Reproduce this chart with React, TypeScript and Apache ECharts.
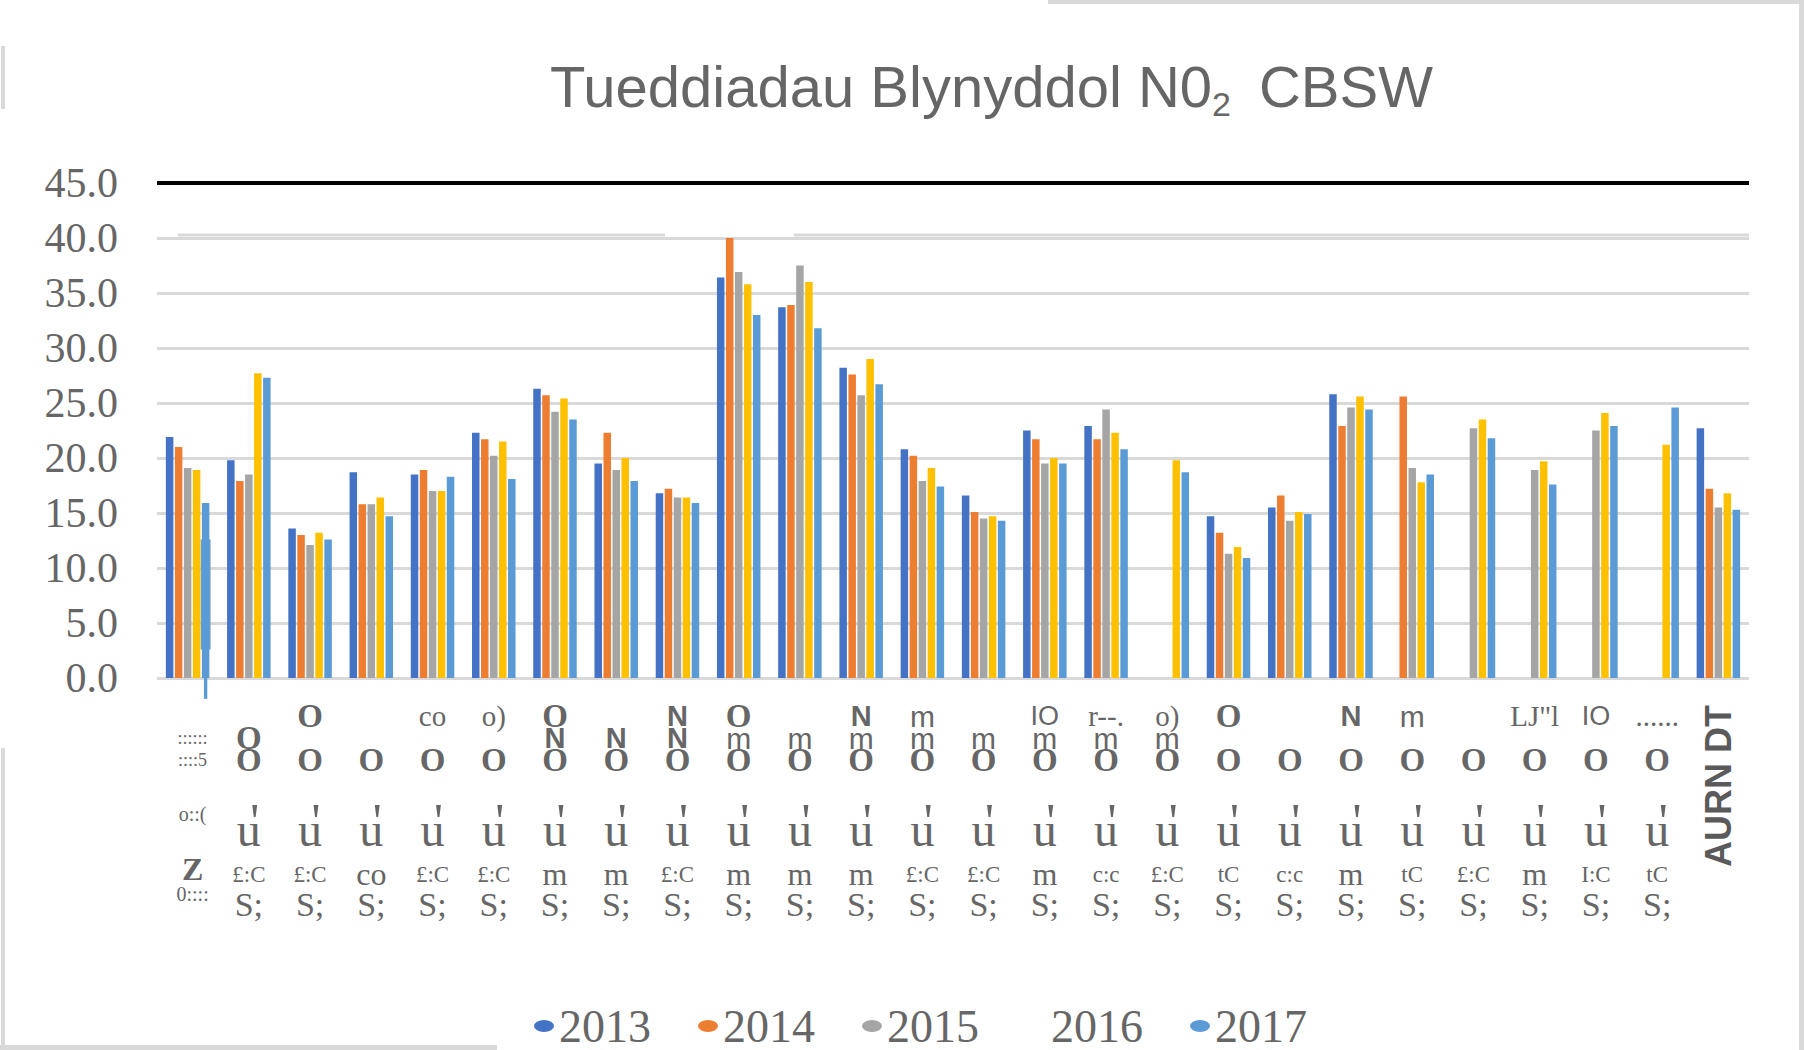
import React, { useEffect, useRef } from 'react';
import * as echarts from 'echarts';

// ---------- data ----------
const years = ['2013', '2014', '2015', '2016', '2017'];

const values2013 = [21.9, 19.8, 13.6, 18.7, 18.5, 22.3, 26.3, 19.5, 16.8, 36.4, 33.7, 28.2, 20.8, 16.6, 22.5, 22.9, null, 14.7, 15.5, 25.8, null, null, null, null, null, 22.7];
const values2014 = [21.0, 17.9, 13.0, 15.8, 18.9, 21.7, 25.7, 22.3, 17.2, 40.0, 33.9, 27.6, 20.2, 15.1, 21.7, 21.7, null, 13.2, 16.6, 22.9, 25.6, null, null, null, null, 17.2];
const values2015 = [19.1, 18.5, 12.1, 15.8, 17.0, 20.2, 24.2, 18.9, 16.4, 36.9, 37.5, 25.7, 17.9, 14.5, 19.5, 24.4, null, 11.3, 14.3, 24.6, 19.1, 22.7, 18.9, 22.5, null, 15.5];
const values2016 = [18.9, 27.7, 13.2, 16.4, 17.0, 21.5, 25.4, 20.0, 16.4, 35.8, 36.0, 29.0, 19.1, 14.7, 20.0, 22.3, 19.8, 11.9, 15.1, 25.6, 17.8, 23.5, 19.7, 24.1, 21.2, 16.8];
const values2017 = [15.9, 27.3, 12.6, 14.7, 18.3, 18.1, 23.5, 17.9, 15.9, 33.0, 31.8, 26.7, 17.4, 14.3, 19.5, 20.8, 18.7, 10.9, 14.9, 24.4, 18.5, 21.8, 17.6, 22.9, 24.6, 15.3];
const seriesValues = [values2013, values2014, values2015, values2016, values2017];

// overlay on the first site's 2017 bar: [category index, low, high, tail below zero]
const overlayCat1 = [0, 2.6, 12.6, -1.9];

// axis
const yMin = 0;
const yMax = 45;
const yStep = 5;

// x-axis label rows (as printed)
const rowA = ['', '', 'O', '', 'co', 'o)', 'O', '', 'N', 'O', '', 'N', 'm', '', 'IO', 'r--.', 'o)', 'O', '', 'N', 'm', '', 'LJ"l', 'IO', '......', ''];
const rowB = ['::::::', 'O', '', '', '', '', 'N', 'N', 'N', 'm', 'm', 'm', 'm', 'm', 'm', 'm', 'm', '', '', '', '', '', '', '', '', ''];
const rowC = ['::::5', 'O', 'O', 'O', 'O', 'O', 'O', 'O', 'O', 'O', 'O', 'O', 'O', 'O', 'O', 'O', 'O', 'O', 'O', 'O', 'O', 'O', 'O', 'O', 'O', ''];
const rowTick = ['o::(', "'", "'", "'", "'", "'", "'", "'", "'", "'", "'", "'", "'", "'", "'", "'", "'", "'", "'", "'", "'", "'", "'", "'", "'", ''];
const rowU = ['', 'u', 'u', 'u', 'u', 'u', 'u', 'u', 'u', 'u', 'u', 'u', 'u', 'u', 'u', 'u', 'u', 'u', 'u', 'u', 'u', 'u', 'u', 'u', 'u', ''];
const rowE = ['Z', '£:C', '£:C', 'co', '£:C', '£:C', 'm', 'm', '£:C', 'm', 'm', 'm', '£:C', '£:C', 'm', 'c:c', '£:C', 'tC', 'c:c', 'm', 'tC', '£:C', 'm', 'I:C', 'tC', ''];
const rowF = ['0::::', 'S;', 'S;', 'S;', 'S;', 'S;', 'S;', 'S;', 'S;', 'S;', 'S;', 'S;', 'S;', 'S;', 'S;', 'S;', 'S;', 'S;', 'S;', 'S;', 'S;', 'S;', 'S;', 'S;', 'S;', ''];
const rowRotated = ['', '', '', '', '', '', '', '', '', '', '', '', '', '', '', '', '', '', '', '', '', '', '', '', '', 'AURN DT'];

const categories = rowF.map((_, i) =>
  rowRotated[i] || [rowA[i], rowB[i], rowC[i], rowU[i], rowE[i], rowF[i]].filter(Boolean).join(' ')
);

const titleMain = 'Tueddiadau Blynyddol N0';
const titleSub = '2';
const titleTail = 'CBSW';

// ---------- styles ----------
const colors = ['#4472C4', '#ED7D31', '#A5A5A5', '#FFC000', '#5B9BD5'];
const SERIF = 'Liberation Serif';
const SANS = 'Liberation Sans';
const TXT = '#666666';
const GRIDLINE = '#d9d9d9';
const gridBox = { left: 157, right: 55, top: 183, bottom: 372 };

function tokL1(t: string, first: boolean) {
  if (!t) return '{e| }';
  if (first) return `{d|${t}}`;
  if (t === 'O') return '{o|O}';
  if (t === 'N') return '{n|N}';
  if (t === 'm') return '{m|m}';
  if (t === 'IO') return '{io|IO}';
  return `{s|${t}}`;
}

function tokE(t: string, first: boolean) {
  if (!t) return '{e| }';
  if (first) return `{z|${t}}`;
  if (t === 'm' || t === 'co') return `{e2|${t}}`;
  return `{e1|${t}}`;
}

function tokF(t: string, first: boolean) {
  if (!t) return '{e| }';
  if (first) return `{d2|${t}}`;
  return `{f|${t}}`;
}

function labelAxis(gridIndex: number, axisLabel: any) {
  return {
    type: 'category',
    gridIndex,
    data: categories,
    boundaryGap: true,
    axisLine: { show: false, onZero: false },
    axisTick: { show: false },
    splitLine: { show: false },
    axisLabel: { interval: 0, color: TXT, ...axisLabel },
  };
}

function buildOption() {
  const nGridLines = (yMax - yMin) / yStep + 1;
  const splitColors = Array.from({ length: nGridLines }, (_, i) => (i === nGridLines - 1 ? '#000000' : GRIDLINE));

  const grids = [0, 1, 2, 3, 4, 5].map(() => ({ ...gridBox }));

  const l1 = { lineHeight: 22, color: TXT };
  const l4 = { lineHeight: 30, color: TXT };

  const xAxes: any[] = [
    {
      type: 'category',
      gridIndex: 0,
      data: categories,
      boundaryGap: true,
      axisLine: { show: false },
      axisTick: { show: false },
      axisLabel: { show: false },
    },
    labelAxis(1, {
      margin: 27,
      verticalAlign: 'top',
      formatter: (_v: string, i: number) =>
        i === 25 ? '' : [tokL1(rowA[i], i === 0), tokL1(rowB[i], i === 0), tokL1(rowC[i], i === 0)].join('\n'),
      rich: {
        e: { ...l1, fontSize: 10, fontFamily: SERIF },
        o: { ...l1, fontFamily: SERIF, fontWeight: 'bold', fontSize: 33 },
        n: { ...l1, fontFamily: SANS, fontWeight: 'bold', fontSize: 29 },
        m: { ...l1, fontFamily: SANS, fontSize: 30 },
        io: { ...l1, fontFamily: SANS, fontSize: 27 },
        s: { ...l1, fontFamily: SERIF, fontSize: 29 },
        d: { ...l1, fontFamily: SERIF, fontSize: 18, padding: [0, 0, 0, 10] },
      },
    }),
    labelAxis(2, {
      margin: 143,
      verticalAlign: 'middle',
      formatter: (_v: string, i: number) => (i === 0 ? `{d|${rowTick[i]}}` : rowTick[i] ? `{t|${rowTick[i]}}` : ''),
      rich: {
        t: { fontFamily: SERIF, fontSize: 50, lineHeight: 50, color: TXT, padding: [0, 0, 0, 12] },
        d: { fontFamily: SERIF, fontSize: 20, lineHeight: 50, color: TXT, padding: [0, 0, 14, 10] },
      },
    }),
    labelAxis(3, {
      margin: 151,
      verticalAlign: 'middle',
      formatter: (_v: string, i: number) => (rowU[i] ? `{u|${rowU[i]}}` : ''),
      rich: {
        u: { fontFamily: SERIF, fontSize: 48, lineHeight: 48, color: TXT },
      },
    }),
    labelAxis(4, {
      margin: 181,
      verticalAlign: 'top',
      formatter: (_v: string, i: number) =>
        i === 25 ? '' : [tokE(rowE[i], i === 0), tokF(rowF[i], i === 0)].join('\n'),
      rich: {
        e: { ...l4, fontSize: 10, fontFamily: SERIF },
        e1: { ...l4, fontFamily: SERIF, fontSize: 23 },
        e2: { ...l4, fontFamily: SERIF, fontSize: 32 },
        f: { ...l4, fontFamily: SERIF, fontSize: 34 },
        z: { color: TXT, lineHeight: 19, fontFamily: SERIF, fontWeight: 'bold', fontSize: 32, padding: [0, 0, 0, 10] },
        d2: { color: TXT, lineHeight: 32, fontFamily: SERIF, fontSize: 20, padding: [0, 0, 0, 10] },
      },
    }),
    labelAxis(5, {
      margin: 27,
      rotate: 90,
      fontFamily: SANS,
      fontWeight: 'bold',
      fontSize: 36,
      color: '#5a5a5a',
      formatter: (_v: string, i: number) => rowRotated[i],
    }),
  ];

  const yAxes: any[] = [
    {
      type: 'value',
      gridIndex: 0,
      min: yMin,
      max: yMax,
      interval: yStep,
      axisLine: { show: false },
      axisTick: { show: false },
      axisLabel: {
        margin: 39,
        fontFamily: SERIF,
        fontSize: 42,
        color: TXT,
        formatter: (v: number) => v.toFixed(1),
      },
      splitLine: { show: true, lineStyle: { color: splitColors, width: 3 } },
    },
    ...[1, 2, 3, 4, 5].map((g) => ({ type: 'value', gridIndex: g, show: false, min: 0, max: 1 })),
  ];

  const barSeries = years.map((y, k) => ({
    type: 'bar',
    name: y,
    xAxisIndex: 0,
    yAxisIndex: 0,
    data: seriesValues[k],
    barWidth: 7.5,
    barGap: '20%',
    itemStyle: { color: colors[k] },
    ...(k === 0
      ? {
          markLine: {
            silent: true,
            symbol: 'none',
            label: { show: false },
            lineStyle: { color: '#000000', width: 4, type: 'solid' },
            data: [{ yAxis: yMax }],
          },
        }
      : {}),
  }));

  const overlaySeries = {
    type: 'custom',
    xAxisIndex: 0,
    yAxisIndex: 0,
    silent: true,
    data: [overlayCat1],
    renderItem: (_params: any, api: any) => {
      const cat = api.value(0);
      const low = api.coord([cat, api.value(1)]);
      const high = api.coord([cat, api.value(2)]);
      const tail = api.coord([cat, api.value(3)]);
      const zero = api.coord([cat, 0]);
      // 5th bar of the group sits 2 bar slots right of centre
      const x = low[0] + 2 * (7.5 + 1.5);
      return {
        type: 'group',
        children: [
          {
            type: 'rect',
            shape: { x: x - 5, y: high[1], width: 10, height: low[1] - high[1] },
            style: { fill: '#72A0C2' },
          },
          {
            type: 'rect',
            shape: { x: x - 1.7, y: zero[1], width: 3.4, height: tail[1] - zero[1] },
            style: { fill: '#5B9BD5' },
          },
        ],
      };
    },
  };

  return {
    animation: false,
    backgroundColor: '#ffffff',
    textStyle: { fontFamily: SERIF },
    title: {
      text: `{m|${titleMain}}{s|${titleSub}}{g| }{m|${titleTail}}`,
      left: 550,
      top: 51,
      padding: 0,
      textStyle: {
        fontWeight: 'normal',
        rich: {
          m: { fontFamily: SANS, fontWeight: 'normal', fontSize: 58, color: TXT, lineHeight: 70, verticalAlign: 'middle' },
          s: { fontFamily: SANS, fontWeight: 'normal', fontSize: 34, color: TXT, lineHeight: 16, verticalAlign: 'bottom' },
          g: { fontFamily: SANS, fontWeight: 'normal', fontSize: 20, width: 28, lineHeight: 70 },
        },
      },
    },
    legend: {
      data: years.map((y) =>
        y === '2016' ? { name: y, itemStyle: { color: 'rgba(0,0,0,0)', opacity: 0, borderWidth: 0 } } : { name: y }
      ),
      icon: 'path://M0 6a10 6 0 1 0 20 0a10 6 0 1 0 -20 0z',
      itemWidth: 20,
      itemHeight: 12,
      itemGap: 47,
      left: 534,
      top: 1003,
      padding: 0,
      textStyle: { fontFamily: SERIF, fontSize: 46, color: TXT },
    },
    grid: grids,
    xAxis: xAxes,
    yAxis: yAxes,
    series: [...barSeries, overlaySeries],
    graphic: {
      elements: [
        { type: 'rect', silent: true, shape: { x: 1048, y: 0, width: 756, height: 4 }, style: { fill: GRIDLINE } },
        { type: 'rect', silent: true, shape: { x: 1799, y: 0, width: 5, height: 1050 }, style: { fill: GRIDLINE } },
        { type: 'rect', silent: true, shape: { x: 1, y: 46, width: 4, height: 63 }, style: { fill: GRIDLINE } },
        { type: 'rect', silent: true, shape: { x: 1, y: 748, width: 4, height: 302 }, style: { fill: GRIDLINE } },
        { type: 'rect', silent: true, shape: { x: 0, y: 1045, width: 497, height: 5 }, style: { fill: GRIDLINE } },
        { type: 'rect', silent: true, shape: { x: 178, y: 233.5, width: 487, height: 3 }, style: { fill: GRIDLINE } },
        { type: 'rect', silent: true, shape: { x: 794, y: 233.5, width: 955, height: 3 }, style: { fill: GRIDLINE } },
      ],
    },
  };
}

export default function App() {
  const ref = useRef<HTMLDivElement>(null);
  useEffect(() => {
    document.body.style.margin = '0';
    const chart = echarts.init(ref.current!, null, { renderer: 'svg' });
    chart.setOption(buildOption() as any);
    return () => chart.dispose();
  }, []);
  return <div ref={ref} style={{ width: 1804, height: 1050 }} />;
}
